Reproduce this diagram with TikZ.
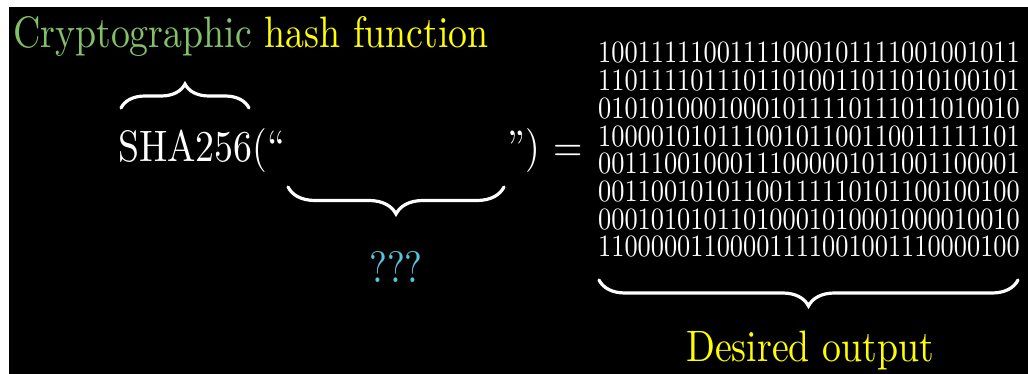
\documentclass[tikz,border=0pt]{standalone}
\usepackage{fontspec}
\setmainfont{lmroman10-regular}[Extension=.otf, Ligatures=TeX]
\usetikzlibrary{decorations.pathreplacing}
\definecolor{bgwhite}{RGB}{255,255,255}
\definecolor{tbgreen}{RGB}{131,193,103}
\definecolor{tbyellow}{RGB}{255,255,0}
\definecolor{tbblue}{RGB}{88,196,221}
\tikzset{
  txt/.style={inner sep=0pt, xscale=0.86, text=white, font=\fontsize{44}{48}\selectfont},
  bitrow/.style={inner sep=0pt, xscale=0.85, text=white, font=\fontsize{31}{31}\selectfont},
  bracestroke/.style={draw=white, line width=3.2pt, line cap=round, decorate, decoration={brace, amplitude=#1, aspect=0.5}},
}
\begin{document}
\begin{tikzpicture}[x=1pt, y=-1pt]
\useasboundingbox (0,0) rectangle (1028,374);
\fill[bgwhite] (0,0) rectangle (1028,374);
\fill[black] (9,7) rectangle (1028,374);

\node[txt, anchor=base west] (title) at (13,48) {\textcolor{tbgreen}{Cryptographic} \textcolor{tbyellow}{hash function}};
\node[txt, anchor=base west] (sha) at (118,162) {SHA256(“};
\node[txt, anchor=base west] (close) at (507,162) {”)\hspace{0.36em}=};
\node[txt, anchor=base, text=tbblue] (qqq) at (396,282) {???};
\foreach \r/\bits in {1/10011111001111000101111001001011,
  2/11011110111011010011011010100101,
  3/01010100010001011110111011010010,
  4/10000101011100101100110011111101,
  5/00111001000111000001011001100001,
  6/00110010101100111110101100100100,
  7/00010101011010001010001000010010,
  8/11000001100001111001001110000100}
  \node[bitrow, anchor=base west] (row\r) at (598,{63+27.7*(\r-1)}) {\bits};
\node[txt, anchor=base west, text=tbyellow] (desired) at (686,361) {Desired output};

\coordinate (tbL) at (121,108);
\coordinate (tbR) at (249,108);
\coordinate (mbL) at (288,187);
\coordinate (mbR) at (504,187);
\coordinate (bbL) at (599,280);
\coordinate (bbR) at (1018,280);

\draw[bracestroke=24pt] (tbL) -- (tbR);
\draw[bracestroke=27pt] (mbR) -- (mbL);
\draw[bracestroke=26pt] (bbR) -- (bbL);
\end{tikzpicture}
\end{document}
